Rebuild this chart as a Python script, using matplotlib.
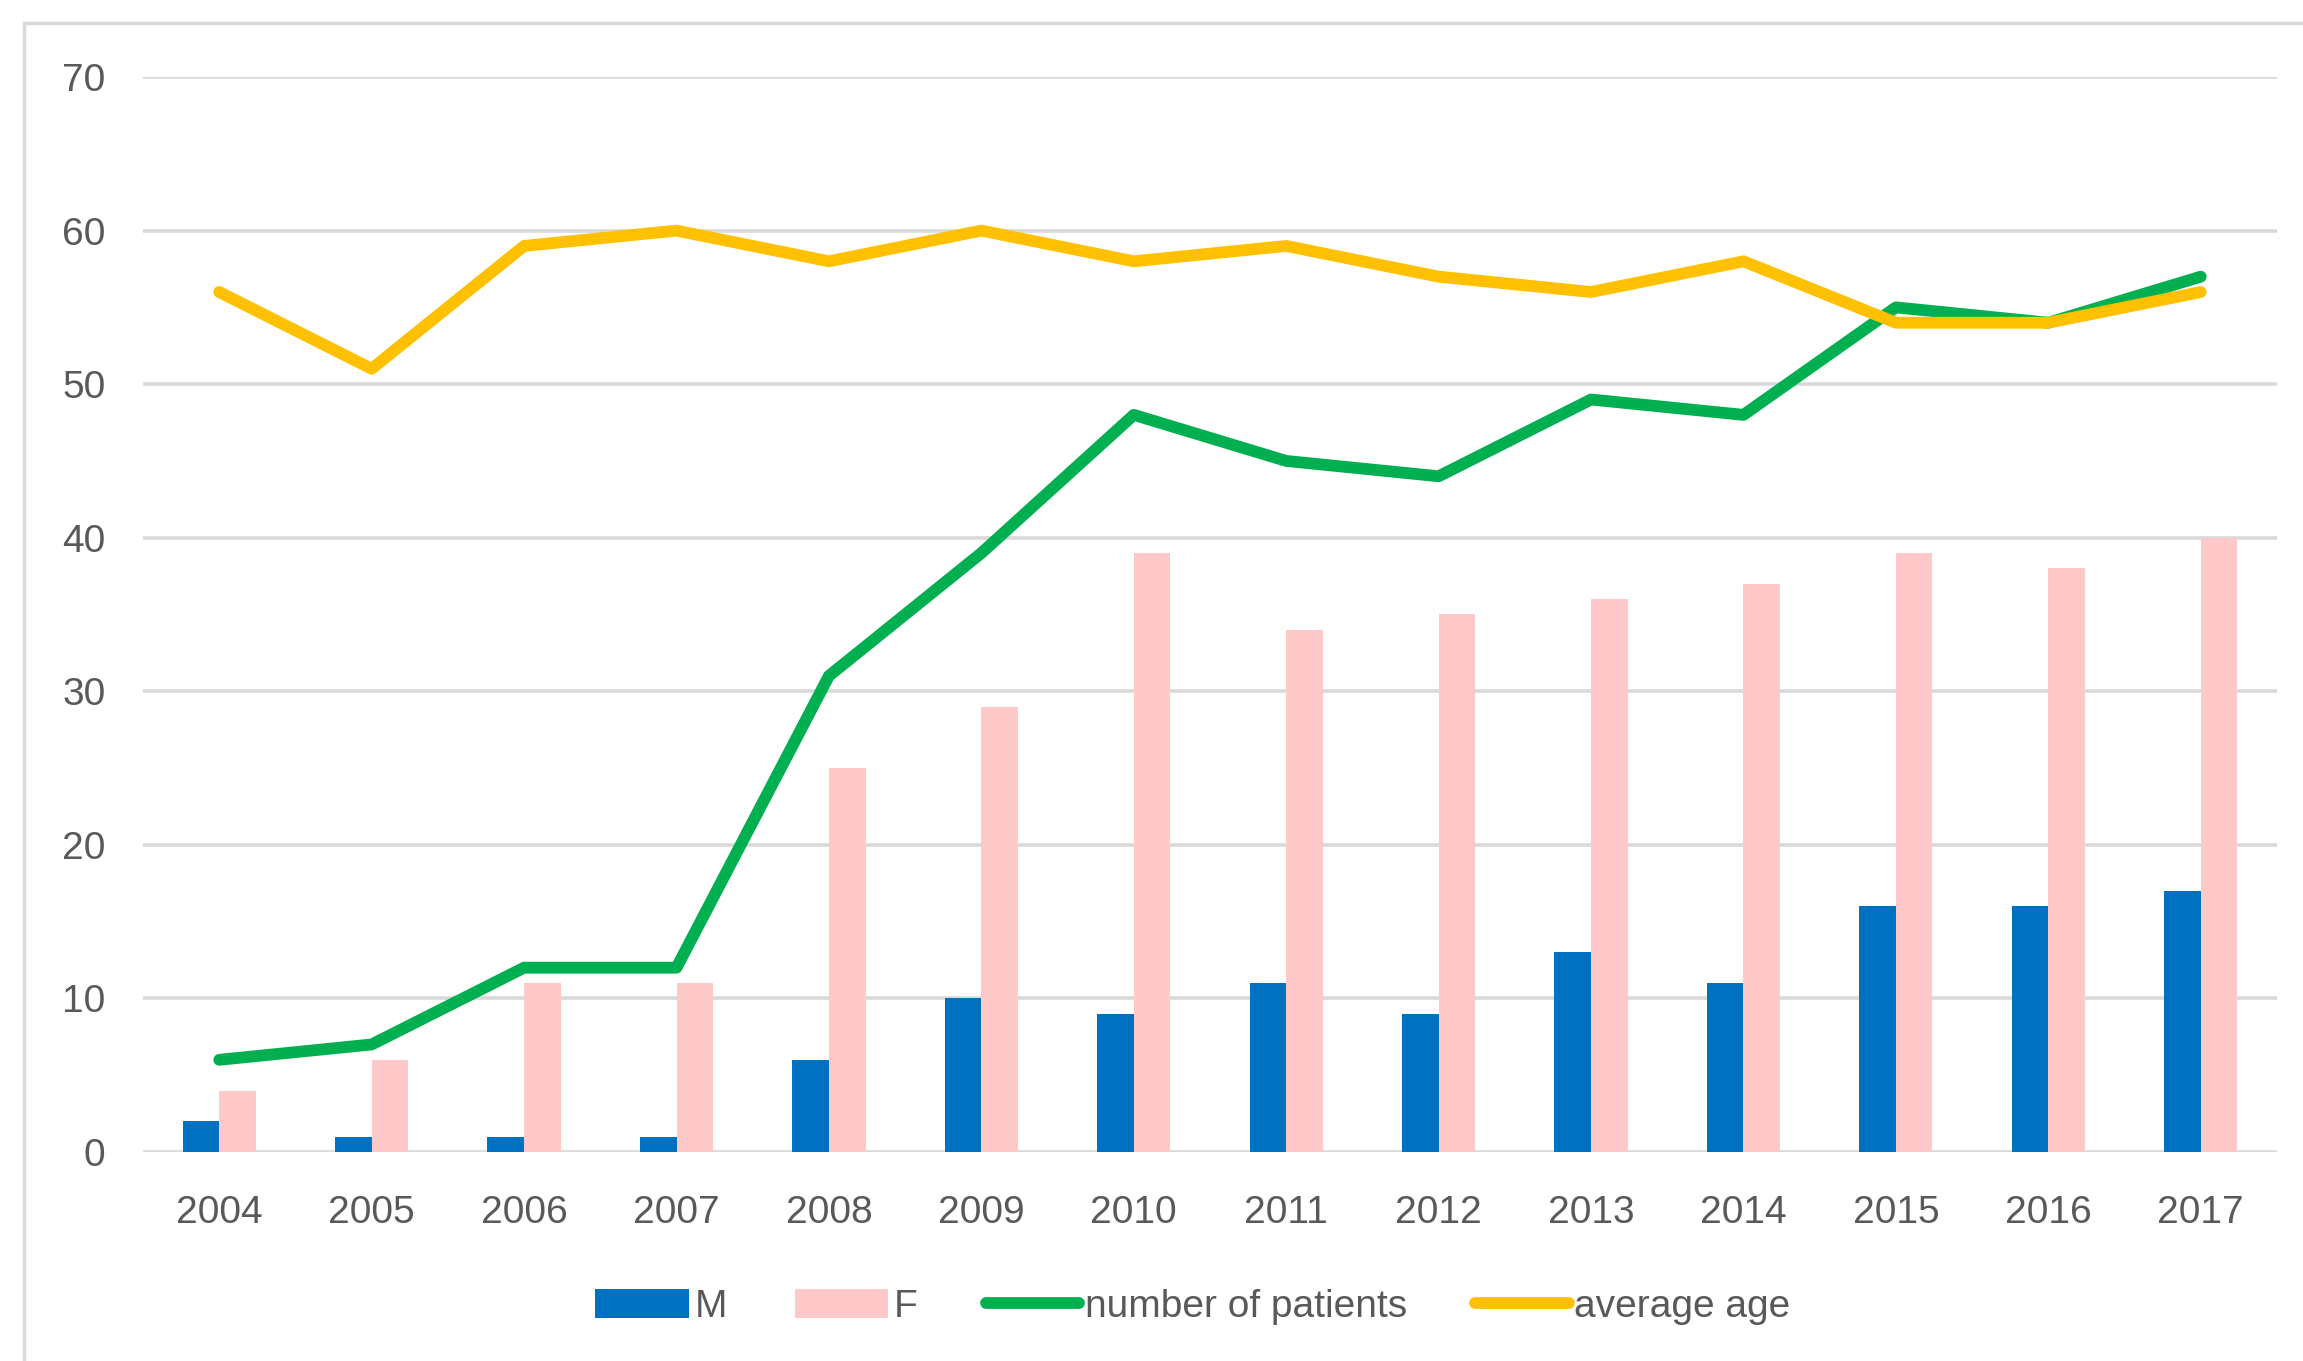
import numpy as np
import matplotlib
matplotlib.use("Agg")
import matplotlib.pyplot as plt
from matplotlib.patches import Rectangle

plt.rcParams['font.family'] = ['Liberation Sans', 'DejaVu Sans']

years = ["2004", "2005", "2006", "2007", "2008", "2009", "2010",
         "2011", "2012", "2013", "2014", "2015", "2016", "2017"]
male = [2, 1, 1, 1, 6, 10, 9, 11, 9, 13, 11, 16, 16, 17]
female = [4, 6, 11, 11, 25, 29, 39, 34, 35, 36, 37, 39, 38, 40]
patients = [6, 7, 12, 12, 31, 39, 48, 45, 44, 49, 48, 55, 54, 57]
avg_age = [56, 51, 59, 60, 58, 60, 58, 59, 57, 56, 58, 54, 54, 56]

TEXT = "#595959"
GRID = "#D9D9D9"

fig = plt.figure(figsize=(23.03, 13.61), dpi=100)
ax = fig.add_axes([0.0621, 0.1536, 0.9266, 0.7898])

x = np.arange(len(years))
w = 0.24
b1 = ax.bar(x - w / 2, male, width=w, color="#0070C0", label="M", zorder=2)
b2 = ax.bar(x + w / 2, female, width=w, color="#FFC9C9", label="F", zorder=2)
l1, = ax.plot(x, patients, color="#00B050", lw=8.5, label="number of patients",
              solid_capstyle="round", zorder=3)
l2, = ax.plot(x, avg_age, color="#FFC000", lw=8.5, label="average age",
              solid_capstyle="round", zorder=4)

ax.set_xlim(-0.5, len(years) - 0.5)
ax.set_ylim(0, 70)
ax.set_yticks(range(0, 71, 10))
ax.set_xticks(x)
ax.set_xticklabels(years)
ax.grid(axis="y", color=GRID, lw=2.6, zorder=0)
ax.set_axisbelow(True)
for s in ax.spines.values():
    s.set_visible(False)
ax.tick_params(axis="both", length=0, labelsize=28, labelcolor=TEXT)
ax.tick_params(axis="y", pad=27)
ax.tick_params(axis="x", pad=31)

leg = ax.legend(handles=[b1, b2, l1, l2], loc="center",
                bbox_to_anchor=(0.492, -0.144), ncol=4,
                frameon=False, fontsize=28, handlelength=2.4,
                handleheight=0.8, handletextpad=0.15, columnspacing=1.75)
for t in leg.get_texts():
    t.set_color(TEXT)

# outer chart frame (cut off at right and bottom in the original)
fig.patches.append(Rectangle((24 / 2303, -0.05), 1.1, 1 - 23 / 1361 + 0.05,
                             transform=fig.transFigure, fill=False,
                             edgecolor=GRID, lw=2.5))

fig.savefig("out.png", dpi=100)
